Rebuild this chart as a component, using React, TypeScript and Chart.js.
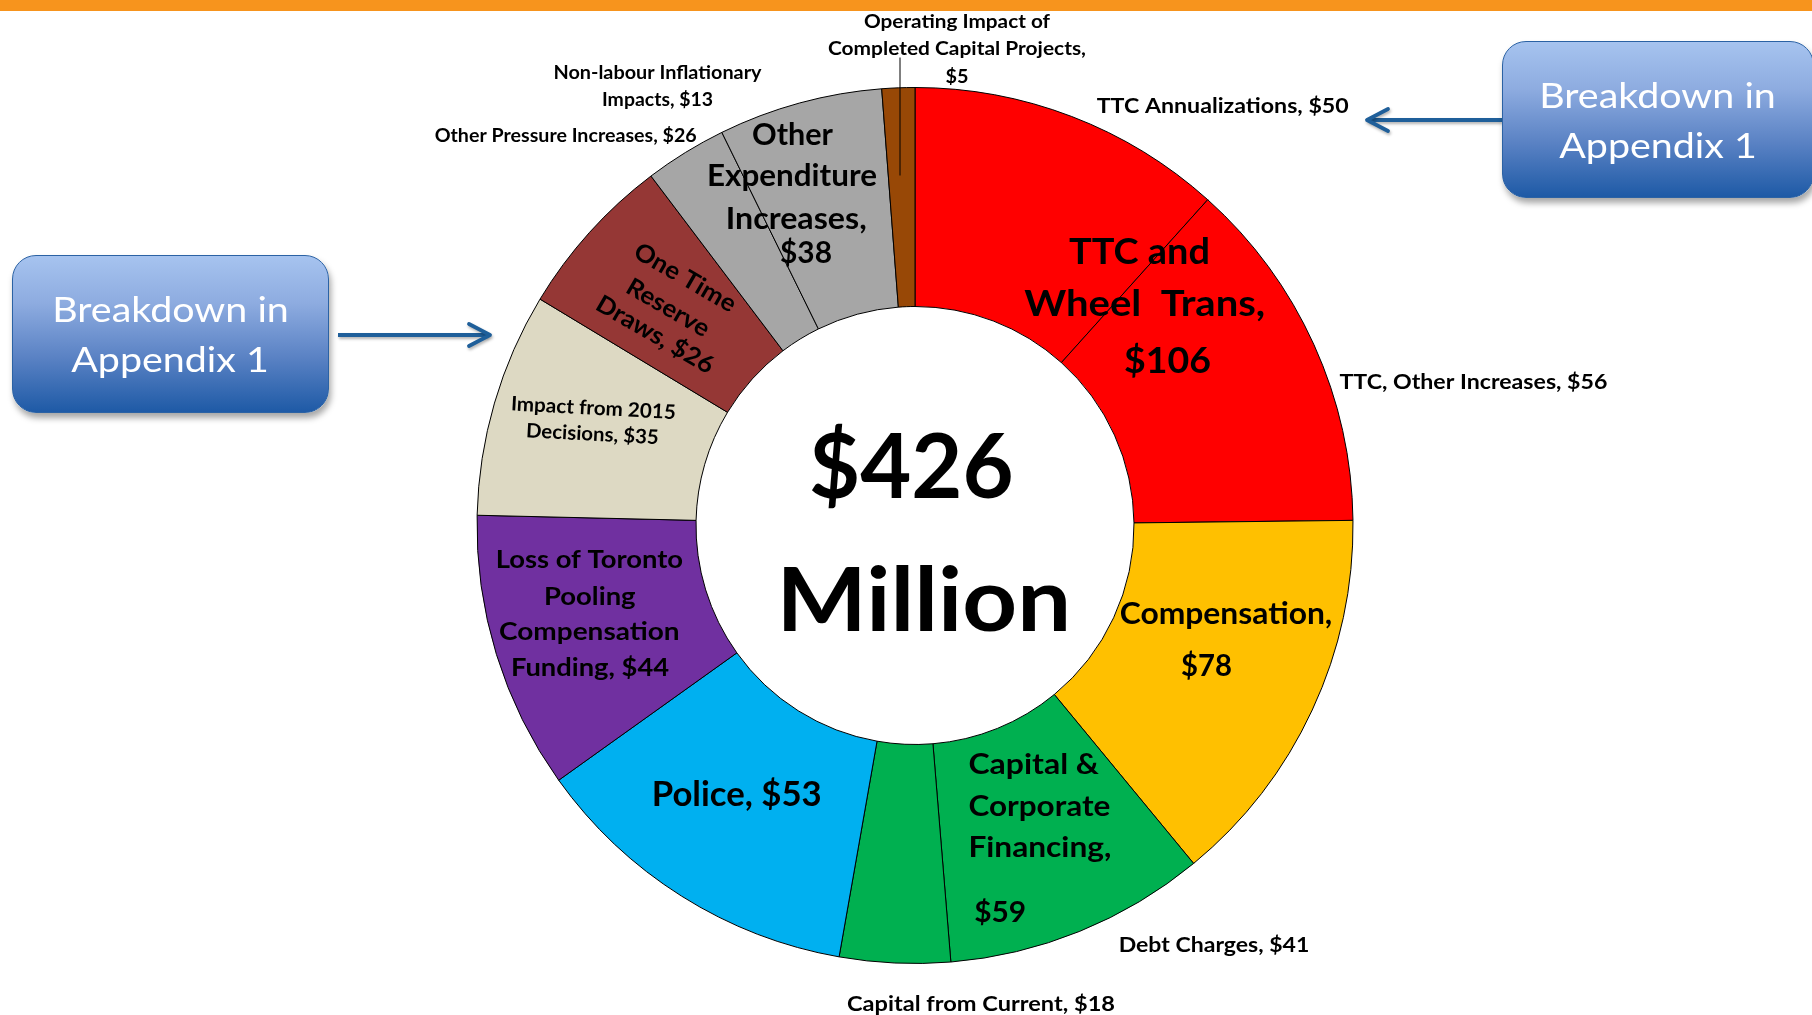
import React, { useEffect, useRef } from 'react';
import { Chart, registerables } from 'chart.js';

Chart.register(...registerables);

// ---------- DATA ----------
const categories = [
  'TTC Annualizations',
  'TTC, Other Increases',
  'Compensation',
  'Debt Charges',
  'Capital from Current',
  'Police',
  'Loss of Toronto Pooling Compensation Funding',
  'Impact from 2015 Decisions',
  'One Time Reserve Draws',
  'Non-labour Inflationary Impacts',
  'Other Pressure Increases',
  'Operating Impact of Completed Capital Projects',
];
// slice sizes as drawn in the picture ($ millions)
const sliceValues = [50, 56.5, 61, 41.5, 17.5, 53, 44, 35.5, 26, 13, 26, 5.2];
// values stated in the labels ($ millions)
const statedValues = [50, 56, 78, 41, 18, 53, 44, 35, 26, 13, 26, 5];
const groupTotals = { ttc: 106, other: 38, capital: 59, total: 426 };

const sliceColors = [
  '#FF0000', '#FF0000', '#FFC000', '#00B050', '#00B050', '#00B0F0',
  '#7030A0', '#DDD9C3', '#953735', '#A6A6A6', '#A6A6A6', '#984806',
];

// ---------- TEXT LAYOUT (offsets from doughnut centre, target widths) ----------
type TextItem = {
  t: string; dx: number; dy: number; size: number;
  w?: number; sx?: number; align?: CanvasTextAlign; rot?: number;
};

const TEXTS: TextItem[] = [
  // inside slices
  { t: 'TTC and', dx: 224.5, dy: -274, size: 36, w: 141 },
  { t: 'Wheel  Trans,', dx: 229.7, dy: -222, size: 36, w: 241 },
  { t: `$${groupTotals.ttc}`, dx: 252.5, dy: -165, size: 36, w: 87 },
  { t: 'Other', dx: -122.5, dy: -391, size: 30, w: 81 },
  { t: 'Expenditure', dx: -123, dy: -350, size: 30, w: 170 },
  { t: 'Increases,', dx: -118.8, dy: -307, size: 30, w: 141 },
  { t: `$${groupTotals.other}`, dx: -109, dy: -273, size: 30, w: 52 },
  { t: 'Compensation,', dx: 311, dy: 88, size: 30, w: 212.6 },
  { t: `$${statedValues[2]}`, dx: 291.5, dy: 140, size: 30, w: 51 },
  { t: 'Capital &', dx: 53.4, dy: 238, size: 29, w: 130.6, align: 'left' },
  { t: 'Corporate', dx: 53.4, dy: 280, size: 29, w: 142, align: 'left' },
  { t: 'Financing,', dx: 53.4, dy: 321, size: 29, w: 143, align: 'left' },
  { t: `$${groupTotals.capital}`, dx: 59.2, dy: 386, size: 29, w: 52, align: 'left' },
  { t: `Police, $${statedValues[5]}`, dx: -178.3, dy: 268, size: 35, w: 170 },
  { t: 'Loss of Toronto', dx: -325.6, dy: 33, size: 25.5, w: 187.3 },
  { t: 'Pooling', dx: -325.2, dy: 70, size: 25.5, w: 91.6 },
  { t: 'Compensation', dx: -325.7, dy: 105, size: 25.5, w: 180.5 },
  { t: `Funding, $${statedValues[6]}`, dx: -325, dy: 141, size: 25.5, w: 158.2 },
  { t: 'Impact from 2015', dx: -321.6, dy: -118, size: 20, w: 165, rot: 3 },
  { t: `Decisions, $${statedValues[7]}`, dx: -322.6, dy: -92, size: 20, w: 132.7, rot: 3 },
  { t: 'One Time', dx: -229.5, dy: -248.5, size: 24.5, sx: 1.06, rot: 30 },
  { t: 'Reserve', dx: -246.5, dy: -218.5, size: 24.5, sx: 1.06, rot: 30 },
  { t: `Draws, $${statedValues[8]}`, dx: -259.5, dy: -191.5, size: 24.5, sx: 1.06, rot: 30 },
  // outside labels
  { t: 'Operating Impact of', dx: 42, dy: -504, size: 18.5, w: 186 },
  { t: 'Completed Capital Projects,', dx: 42, dy: -477, size: 18.5, w: 258 },
  { t: `$${statedValues[11]}`, dx: 42, dy: -449, size: 18.5, w: 23 },
  { t: 'Non-labour Inflationary', dx: -257.5, dy: -453, size: 18, w: 208 },
  { t: `Impacts, $${statedValues[9]}`, dx: -257.5, dy: -426, size: 18, w: 111 },
  { t: `Other Pressure Increases, $${statedValues[10]}`, dx: -349.3, dy: -390, size: 18.5, w: 262 },
  { t: `TTC Annualizations, $${statedValues[0]}`, dx: 307.7, dy: -420, size: 21, w: 252 },
  { t: `TTC, Other Increases, $${statedValues[1]}`, dx: 558.4, dy: -144, size: 21, w: 268 },
  { t: `Debt Charges, $${statedValues[3]}`, dx: 299, dy: 418.5, size: 21, w: 190.7 },
  { t: `Capital from Current, $${statedValues[4]}`, dx: 66, dy: 478, size: 21, w: 268 },
];

const CENTER_TEXTS = [
  { t: `$${groupTotals.total}`, dx: -3.7, base: -28, size: 90, w: 204.5 },
  { t: 'Million', dx: 8.8, base: 105, size: 88, w: 294.5 },
];

const FONT = 'Lato, "Open Sans", sans-serif';
const ARROW_COLOR = '#1F5F9A';

function drawArrow(ctx: CanvasRenderingContext2D, x1: number, x2: number, y: number) {
  const dir = Math.sign(x2 - x1);
  ctx.save();
  ctx.strokeStyle = ARROW_COLOR;
  ctx.lineWidth = 3.8;
  ctx.shadowColor = 'rgba(0,0,0,0.3)';
  ctx.shadowBlur = 3;
  ctx.shadowOffsetX = 1;
  ctx.shadowOffsetY = 2;
  ctx.beginPath();
  ctx.moveTo(x1, y);
  ctx.lineTo(x2 - dir * 2, y);
  ctx.stroke();
  ctx.lineJoin = 'round';
  ctx.lineCap = 'round';
  ctx.beginPath();
  ctx.moveTo(x2 - dir * 21, y - 11);
  ctx.lineTo(x2, y);
  ctx.lineTo(x2 - dir * 21, y + 11);
  ctx.stroke();
  ctx.restore();
}

const annotationPlugin = {
  id: 'annotations',
  afterDatasetsDraw(chart: any) {
    const ctx: CanvasRenderingContext2D = chart.ctx;
    const arc = chart.getDatasetMeta(0).data[0];
    const cx = arc.x;
    const cy = arc.y;
    ctx.save();
    // leader line for the small slice
    ctx.strokeStyle = '#000';
    ctx.lineWidth = 1;
    ctx.beginPath();
    ctx.moveTo(cx - 15, cy - 468);
    ctx.lineTo(cx - 15, cy - 350);
    ctx.stroke();

    ctx.fillStyle = '#000';
    ctx.textBaseline = 'alphabetic';
    for (const it of TEXTS) {
      ctx.save();
      ctx.translate(cx + it.dx, cy + it.dy);
      if (it.rot) ctx.rotate((it.rot * Math.PI) / 180);
      ctx.font = `700 ${it.size}px ${FONT}`;
      ctx.textAlign = it.align || 'center';
      const m = ctx.measureText(it.t).width;
      const sx = it.w ? it.w / m : it.sx || 1;
      ctx.scale(sx, 1);
      ctx.fillText(it.t, 0, it.size * 0.36);
      ctx.restore();
    }
    for (const it of CENTER_TEXTS) {
      ctx.save();
      ctx.font = `700 ${it.size}px ${FONT}`;
      ctx.textAlign = 'center';
      const m = ctx.measureText(it.t).width;
      ctx.translate(cx + it.dx, cy + it.base);
      ctx.scale(it.w / m, 1);
      ctx.fillText(it.t, 0, 0);
      ctx.restore();
    }
    ctx.restore();

    drawArrow(ctx, 338, 490, 335);
    drawArrow(ctx, 1502, 1367, 120);
  },
};

const boxStyle = (left: number, top: number, width: number, height: number): React.CSSProperties => ({
  position: 'absolute',
  left,
  top,
  width,
  height,
  boxSizing: 'border-box',
  borderRadius: 24,
  border: '1.5px solid #2B62A4',
  background: 'linear-gradient(to bottom, #A6C3EF 0%, #8EACE0 30%, #5A82C4 65%, #1E5AA6 100%)',
  boxShadow: '2px 5px 6px rgba(0,0,0,0.35)',
  color: '#FFFFFF',
  fontFamily: FONT,
  fontWeight: 400,
  fontSize: 35.5,
  lineHeight: '50px',
  display: 'flex',
  flexDirection: 'column',
  justifyContent: 'center',
  alignItems: 'center',
  textAlign: 'center',
  zIndex: 2,
});

const lineStyle: React.CSSProperties = { transform: 'scaleX(1.11)', whiteSpace: 'pre' };

export default function App() {
  const canvasRef = useRef<HTMLCanvasElement | null>(null);

  useEffect(() => {
    const canvas = canvasRef.current;
    if (!canvas) return;
    const chart = new Chart(canvas, {
      type: 'doughnut',
      data: {
        labels: categories,
        datasets: [
          {
            data: sliceValues,
            backgroundColor: sliceColors,
            borderColor: '#000000',
            borderWidth: 1,
            hoverOffset: 0,
          },
        ],
      },
      options: {
        responsive: false,
        animation: false,
        devicePixelRatio: 1,
        radius: 438,
        cutout: '50%',
        rotation: 0,
        layout: { padding: { left: 18, right: 0, top: 36, bottom: 0 } },
        plugins: {
          legend: { display: false },
          tooltip: { enabled: false },
        },
        events: [],
      },
      plugins: [annotationPlugin],
    });
    return () => chart.destroy();
  }, []);

  return (
    <div style={{ position: 'absolute', left: 0, top: 0, width: 1812, height: 1015, overflow: 'hidden', background: '#FFFFFF' }}>
      <div style={{ position: 'absolute', left: 0, top: 0, width: 1812, height: 11, background: '#F7941D', zIndex: 3 }} />
      <canvas ref={canvasRef} width={1812} height={1015} style={{ position: 'absolute', left: 0, top: 0, width: 1812, height: 1015 }} />
      <div style={boxStyle(12, 255, 317, 158)}>
        <div style={lineStyle}>Breakdown in</div>
        <div style={lineStyle}>Appendix 1</div>
      </div>
      <div style={boxStyle(1502, 41, 312, 157)}>
        <div style={lineStyle}>Breakdown in</div>
        <div style={lineStyle}>Appendix 1</div>
      </div>
    </div>
  );
}
